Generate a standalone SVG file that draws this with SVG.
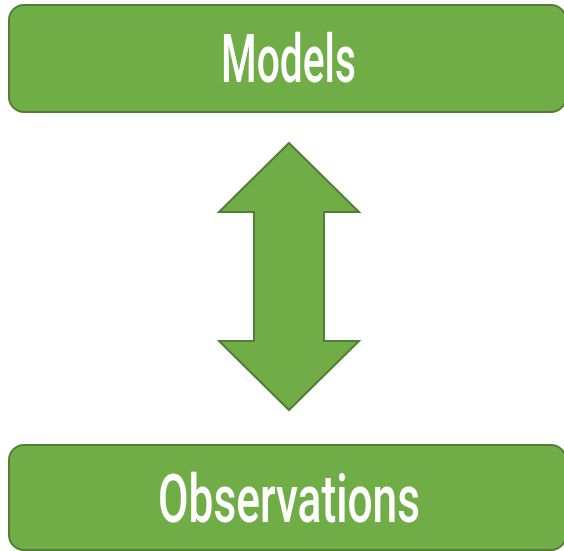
<svg xmlns="http://www.w3.org/2000/svg" width="564" height="551" viewBox="0 0 564 551">
  <style>
    .box { fill: #70AD47; stroke: #507E32; stroke-width: 2; }
    .label { fill: #FFFFFF; font-family: Roboto, "DejaVu Sans", sans-serif; font-weight: 500; font-size: 67px; }
    .arrow { fill: #70AD47; stroke: #507E32; stroke-width: 2; stroke-linejoin: miter; }
  </style>
  <rect width="564" height="551" fill="#FFFFFF"/>
  <g id="models">
    <rect class="box" x="9" y="5" width="557" height="107" rx="15" ry="15"/>
    <text class="label" x="221" y="82" textLength="135" lengthAdjust="spacingAndGlyphs">Models</text>
  </g>
  <g id="connectors">
    <polygon class="arrow" points="289,143 359,212 324,212 324,341 359,341 289,410 219,341 254,341 254,212 219,212"/>
  </g>
  <g id="observations">
    <rect class="box" x="9" y="445" width="557" height="105" rx="15" ry="15"/>
    <text class="label" x="158" y="522" textLength="262" lengthAdjust="spacingAndGlyphs">Observations</text>
  </g>
</svg>
